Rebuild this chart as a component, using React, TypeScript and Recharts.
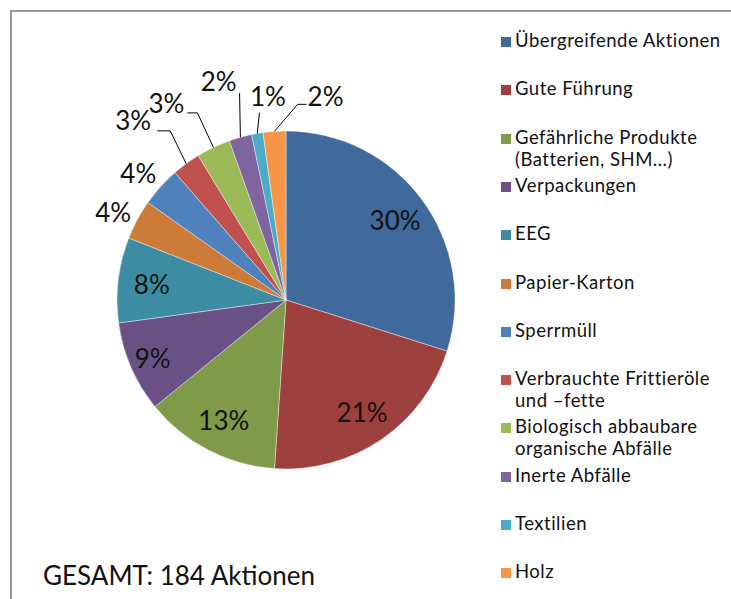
import { PieChart, Pie, Cell, Legend } from 'recharts';

const categories = [
  'Übergreifende Aktionen',
  'Gute Führung',
  'Gefährliche Produkte (Batterien, SHM...)',
  'Verpackungen',
  'EEG',
  'Papier-Karton',
  'Sperrmüll',
  'Verbrauchte Frittieröle und –fette',
  'Biologisch abbaubare organische Abfälle',
  'Inerte Abfälle',
  'Textilien',
  'Holz',
];

// number of actions per category (total 184)
const actions = [55, 39, 24, 16, 15, 7, 7, 5, 6, 4, 2, 4];

const colors = [
  '#416A9C', '#9E413E', '#7F9A48', '#695185', '#3C8DA3', '#CC7B38',
  '#4F81BD', '#C0504D', '#9BBB59', '#8064A2', '#4BACC6', '#F79646',
];

const totalLabel = 'GESAMT: 184 Aktionen';

const chartData = categories.map((name, i) => ({ name, value: actions[i] }));

const FONT = 'Lato, "Open Sans", sans-serif';
const RAD = Math.PI / 180;

// label placement for the small slices (angle shift in degrees, clockwise from the slice middle)
const outside: Record<number, any> = {
  5: { shift: -1.4, r: 194 },
  6: { shift: -1.3, r: 195 },
  7: { shift: 1.8, r: 205, h: -13, anchor: 'end', tx: -6, ty: -1 },
  8: { shift: 0.1, r: 207, h: -10, anchor: 'end', tx: -3, ty: 0 },
  9: { shift: 3.0, r: 212, h: 0, anchor: 'end', tx: -3, ty: -2 },
  10: { shift: 1.7, r: 189, h: 0, anchor: 'middle', tx: 8.5, ty: -7 },
  11: { shift: 7.3, r: 196, h: 9, anchor: 'start', tx: 1, ty: 2 },
};

const polar = (cx: number, cy: number, r: number, cw: number) => ({
  x: cx + r * Math.sin(cw * RAD),
  y: cy - r * Math.cos(cw * RAD),
});

const renderLabel = (props: any) => {
  const { cx, cy, midAngle, outerRadius, percent, index } = props;
  const cw = (((90 - midAngle) % 360) + 360) % 360;
  const text = `${Math.round(percent * 100)}%`;
  const style = { fontFamily: FONT, fontSize: 26, fill: '#111' };
  const cfg = outside[index];

  if (!cfg) {
    const r = index === 3 ? outerRadius * 0.86 : outerRadius * 0.8;
    const p = polar(cx, cy, r, cw);
    return (
      <text x={p.x} y={p.y} textAnchor="middle" dominantBaseline="central" style={style}>
        {text}
      </text>
    );
  }

  const p = polar(cx, cy, cfg.r, cw + cfg.shift);
  if (cfg.h === undefined) {
    return (
      <text x={p.x} y={p.y} textAnchor="middle" dominantBaseline="central" style={style}>
        {text}
      </text>
    );
  }

  const start = polar(cx, cy, outerRadius, cw);
  const endX = p.x + cfg.h;
  return (
    <g>
      <polyline
        points={`${start.x},${start.y} ${p.x},${p.y} ${endX},${p.y}`}
        fill="none"
        stroke="#000"
        strokeWidth={1}
      />
      <text x={endX + cfg.tx} y={p.y + cfg.ty} textAnchor={cfg.anchor} style={style}>
        {text}
      </text>
    </g>
  );
};

const renderLegend = (props: any) => {
  // keep the data order, not the alphabetical one
  const payload = [...(props.payload ?? [])].sort(
    (a: any, b: any) => categories.indexOf(a.value) - categories.indexOf(b.value)
  );
  return (
    <div
      style={{
        position: 'relative',
        fontFamily: FONT,
        fontSize: 18.5,
        letterSpacing: 0.5,
        color: '#111',
        lineHeight: '22px',
      }}
    >
      {payload.map((entry: any, i: number) => (
        <div key={`legend-${i}`} style={{ position: 'absolute', top: i * 48.3, left: 0, display: 'flex' }}>
          <span
            style={{ width: 10, height: 10, marginTop: 8, marginRight: 4, flex: 'none', background: entry.color }}
          />
          <span style={{ width: 212 }}>{entry.value}</span>
        </div>
      ))}
    </div>
  );
};

export default function App() {
  return (
    <div
      style={{ position: 'absolute', left: 0, top: 0, width: 731, height: 599, overflow: 'hidden', background: '#fff' }}
    >
      <div
        style={{ position: 'absolute', left: 10, top: 10, width: 800, height: 700, border: '2px solid #9a9a9a' }}
      />
      <div style={{ position: 'absolute', left: 0, top: 0 }}>
        <PieChart width={731} height={599} margin={{ top: 0, right: 0, bottom: 0, left: 0 }}>
          <Pie
            data={chartData}
            dataKey="value"
            nameKey="name"
            cx={286}
            cy={300}
            outerRadius={169}
            startAngle={90}
            endAngle={-270}
            stroke="#ffffff"
            strokeWidth={0.4}
            label={renderLabel}
            labelLine={false}
            isAnimationActive={false}
          >
            {chartData.map((_, i) => (
              <Cell key={`cell-${i}`} fill={colors[i]} />
            ))}
          </Pie>
          <Legend
            layout="vertical"
            align="right"
            verticalAlign="top"
            content={renderLegend}
            wrapperStyle={{ position: 'absolute', left: 501, top: 29, width: 228, height: 560 }}
          />
        </PieChart>
      </div>
      <div
        style={{
          position: 'absolute',
          left: 43,
          top: 559,
          fontFamily: FONT,
          fontSize: 26,
          lineHeight: '32px',
          color: '#111',
          whiteSpace: 'nowrap',
        }}
      >
        {totalLabel}
      </div>
    </div>
  );
}
